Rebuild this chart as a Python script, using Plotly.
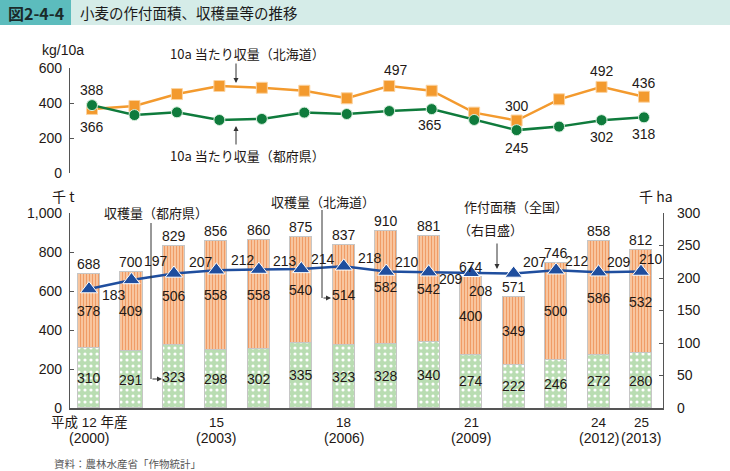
import plotly.graph_objects as go

# ---------------- data ----------------
years = list(range(2000, 2014))
yield_hokkaido = [366, 383, 451, 497, 487, 470, 427, 497, 470, 345, 300, 421, 492, 436]
yield_prefectures = [388, 331, 347, 303, 309, 345, 337, 354, 365, 303, 245, 265, 302, 318]
prod_hokkaido = [378, 409, 506, 558, 558, 540, 514, 582, 542, 400, 349, 500, 586, 532]
prod_prefectures = [310, 291, 323, 298, 302, 335, 323, 328, 340, 274, 222, 246, 272, 280]
prod_total = [688, 700, 829, 856, 860, 875, 837, 910, 881, 674, 571, 746, 858, 812]
area_total = [183, 197, 207, 212, 213, 214, 218, 210, 209, 208, 207, 212, 209, 210]
tick_years = [2000, 2003, 2006, 2009, 2012, 2013]
tick_era = ["平成 12 年産", "15", "18", "21", "24", "25"]
tick_ad = ["(2000)", "(2003)", "(2006)", "(2009)", "(2012)", "(2013)"]

# label placement styles (pixel offsets)
area_label_shift = [(25, 6), (25, -19), (27, -11), (27, -10), (26, -9), (22, -10), (26, -8),
                    (21, -10), (22, 7), (10, 18), (21, -11), (21, -9), (20, -10), (10, -13)]
hok_yield_labels = {0: (0, 18), 7: (7, -16), 10: (0, -14), 12: (0, -16), 13: (0, -14)}
pref_yield_labels = {0: (0, -15), 8: (-2, 16), 10: (0, 18), 12: (0, 17), 13: (0, 17)}

W, H = 730, 471
def PX(x):
    return x / W
def PY(y):
    return 1 - y / H

NUM_FONT = "Liberation Sans, Arial, Noto Sans CJK JP"
JP_FONT = "Noto Sans CJK JP, Liberation Sans"
TXT = "#231815"

# x geometry
k = (641 - 89) / 13.0
x_range = [2000 - (89 - 70) / k, 2000 - (89 - 70) / k + (663 - 70) / k]
x2_range = [2000 - (92 - 70) / k, 2000 - (92 - 70) / k + (663 - 70) / k]

fig = go.Figure()

# bars
fig.add_trace(go.Bar(
    x=years, y=prod_prefectures, width=0.52,
    marker=dict(color="#b9ddb2", line=dict(color="#c6c6c6", width=1),
                pattern=dict(shape=".", bgcolor="#b9ddb2", fgcolor="white", size=6, solidity=0.22)),
    hoverinfo="skip", showlegend=False))
fig.add_trace(go.Bar(
    x=years, y=prod_hokkaido, width=0.52,
    marker=dict(color="#f8c69e", line=dict(color="#c6c6c6", width=1),
                pattern=dict(shape="|", bgcolor="#f9caa4", fgcolor="#f09c66", size=3, solidity=0.4)),
    hoverinfo="skip", showlegend=False))

# area line (right axis)
fig.add_trace(go.Scatter(
    x=years, y=area_total, yaxis="y2", mode="lines+markers",
    line=dict(color="#1f4e9e", width=2.5),
    marker=dict(symbol="triangle-up", size=15, color="#1f4e9e", line=dict(color="white", width=1)),
    hoverinfo="skip", showlegend=False))

# top chart
fig.add_trace(go.Scatter(
    x=years, y=yield_hokkaido, xaxis="x2", yaxis="y3", mode="lines+markers",
    line=dict(color="#f39a2e", width=2.5),
    marker=dict(symbol="square", size=11, color="#f39a2e", line=dict(color="#fbd3a0", width=1)),
    hoverinfo="skip", showlegend=False))
fig.add_trace(go.Scatter(
    x=years, y=yield_prefectures, xaxis="x2", yaxis="y3", mode="lines+markers",
    line=dict(color="#0f7b3c", width=2.5),
    marker=dict(symbol="circle", size=11, color="#0f7b3c", line=dict(color="#d8eedd", width=1)),
    hoverinfo="skip", showlegend=False))

ann = []
numf = dict(family=NUM_FONT, size=14, color=TXT)
jpf = dict(family=JP_FONT, size=13, color=TXT)

# bar labels
for i, yr in enumerate(years):
    ann.append(dict(x=yr, y=prod_total[i], xref="x", yref="y", text=str(prod_total[i]),
                    showarrow=False, yanchor="middle", yshift=10, font=numf))
    ann.append(dict(x=yr, y=prod_prefectures[i] + prod_hokkaido[i] / 2, xref="x", yref="y",
                    text=str(prod_hokkaido[i]), showarrow=False, font=numf))
    ann.append(dict(x=yr, y=prod_prefectures[i] / 2, xref="x", yref="y",
                    text=str(prod_prefectures[i]), showarrow=False, font=numf))
    dx, dy = area_label_shift[i]
    ann.append(dict(x=yr, y=area_total[i], xref="x", yref="y2", text=str(area_total[i]),
                    showarrow=False, xshift=dx, yshift=-dy, font=numf))

# top labels
for i, (dx, dy) in hok_yield_labels.items():
    ann.append(dict(x=years[i], y=yield_hokkaido[i], xref="x2", yref="y3", text=str(yield_hokkaido[i]),
                    showarrow=False, xshift=dx, yshift=-dy, font=numf))
for i, (dx, dy) in pref_yield_labels.items():
    ann.append(dict(x=years[i], y=yield_prefectures[i], xref="x2", yref="y3", text=str(yield_prefectures[i]),
                    showarrow=False, xshift=dx, yshift=-dy, font=numf))

# x tick labels
for yr, a, b in zip(tick_years, tick_era, tick_ad):
    ann.append(dict(x=yr, y=PY(431), xref="x", yref="paper", text=a, showarrow=False, borderpad=0,
                    font=dict(family=NUM_FONT, size=13.5, color=TXT)))
    ann.append(dict(x=yr, y=PY(446.5), xref="x", yref="paper", text=b, showarrow=False, borderpad=0,
                    font=dict(family=NUM_FONT, size=14, color=TXT)))

def ptext(x, y, text, font, xanchor="center"):
    ann.append(dict(x=PX(x), y=PY(y), xref="paper", yref="paper", text=text, showarrow=False,
                    xanchor=xanchor, yanchor="middle", font=font))

def parrow(x, y, x_from, y_from):
    ann.append(dict(x=PX(x), y=PY(y), xref="paper", yref="paper", text="", showarrow=True,
                    ax=x_from - x, ay=y_from - y, axref="pixel", ayref="pixel",
                    arrowhead=2, arrowsize=1, arrowwidth=1, arrowcolor="#333"))

# title
ptext(36, 13, "<b>図2-4-4</b>", dict(family=JP_FONT, size=16, color="#1a2a2a"))
ptext(78, 13, "小麦の作付面積、収穫量等の推移", dict(family=JP_FONT, size=14.5, color="#1a1a1a"), xanchor="left")

# units
ptext(63, 50, "kg/10a", dict(family=NUM_FONT, size=14, color=TXT))
ptext(63, 196, "千 t", dict(family=JP_FONT, size=14, color=TXT))
ptext(656, 196, "千 ha", dict(family=JP_FONT, size=14, color=TXT))

# series annotations
ptext(247, 54, "10a 当たり収量（北海道）", jpf)
parrow(236, 83, 236, 62)
ptext(247, 156, "10a 当たり収量（都府県）", jpf)
parrow(236, 126, 236, 146)
ptext(156, 212, "収穫量（都府県）", jpf)
parrow(162, 379, 151, 379)
ptext(323, 201, "収穫量（北海道）", jpf)
parrow(331, 298, 322, 298)
ptext(516, 206, "作付面積（全国）", jpf)
ptext(490, 229, "（右目盛）", jpf)
parrow(497, 269, 497, 242)

# source
ptext(52, 463, "資料：農林水産省「作物統計」", dict(family=JP_FONT, size=10.5, color="#555"), xanchor="left")

shapes = [
    dict(type="rect", xref="paper", yref="paper", x0=0, x1=1, y0=PY(25), y1=1,
         fillcolor="#d5ece8", line=dict(width=0), layer="below"),
    dict(type="rect", xref="paper", yref="paper", x0=0, x1=PX(71), y0=PY(25), y1=1,
         fillcolor="#5cbcbd", line=dict(width=0), layer="below"),
    dict(type="line", xref="paper", yref="paper", x0=PX(151), x1=PX(151), y0=PY(223), y1=PY(379),
         line=dict(color="#333", width=1)),
    dict(type="line", xref="paper", yref="paper", x0=PX(322), x1=PX(322), y0=PY(210), y1=PY(298),
         line=dict(color="#333", width=1)),
]

axis_common = dict(showgrid=False, zeroline=False, showline=True, linecolor="#555", linewidth=1.2,
                   ticks="inside", ticklen=4, tickcolor="#555", tickwidth=1.2,
                   tickfont=dict(family=NUM_FONT, size=14, color=TXT), automargin=False)

fig.update_layout(
    width=W, height=H,
    margin=dict(l=0, r=0, t=0, b=0),
    paper_bgcolor="white", plot_bgcolor="rgba(0,0,0,0)",
    template="none",
    barmode="stack", bargap=0,
    showlegend=False,
    xaxis=dict(domain=[PX(70), PX(663)], range=x_range, anchor="y", showgrid=False, zeroline=False,
               showline=True, linecolor="#555", linewidth=1.5, ticks="", showticklabels=False,
               automargin=False, fixedrange=True),
    yaxis=dict(domain=[PY(408), PY(213)], range=[0, 1000], anchor="x",
               tickvals=[0, 200, 400, 600, 800, 1000], tickformat=",", ticklabelstandoff=4, **axis_common),
    yaxis2=dict(domain=[PY(408), PY(213)], range=[0, 300], anchor="x", overlaying="y", side="right",
                tickvals=[0, 50, 100, 150, 200, 250, 300], ticklabelstandoff=10, **axis_common),
    xaxis2=dict(domain=[PX(70), PX(663)], range=x2_range, anchor="y3", visible=False),
    yaxis3=dict(domain=[PY(173), PY(68)], range=[0, 600], anchor="x2",
                tickvals=[0, 200, 400, 600], ticklabelstandoff=4, **axis_common),
    annotations=ann,
    shapes=shapes,
)

fig.write_html("out.html", config={"displayModeBar": False},
               post_script="document.body.style.margin='0px';document.body.style.overflow='hidden';")
